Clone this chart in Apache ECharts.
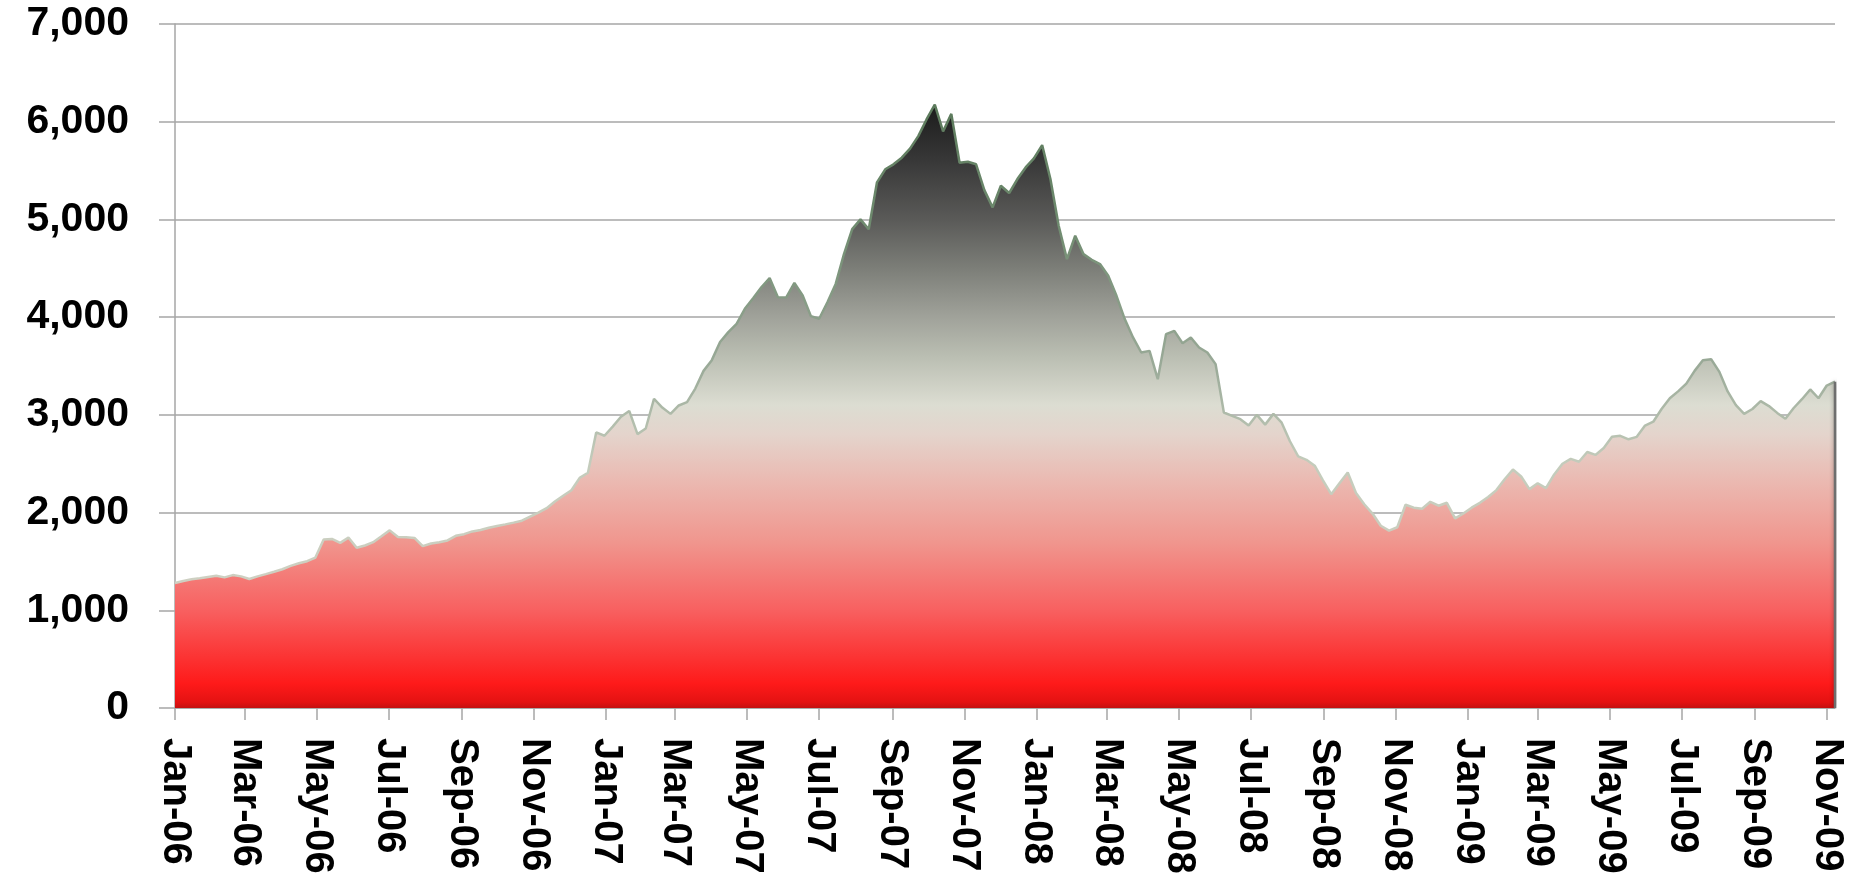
<!DOCTYPE html>
<html>
<head>
<meta charset="utf-8">
<title>Weekly index level, 2006–2009</title>
<script src="https://cdn.jsdelivr.net/npm/echarts@6/dist/echarts.min.js"></script>
<style>
  html, body { margin: 0; padding: 0; background: #ffffff; }
  #chart { width: 1860px; height: 879px; }
</style>
</head>
<body>
<div id="chart"></div>
<script>
// Weekly closing levels, first week of January 2006 onward
const START = { year: 2006, month: 0, day: 1 };
const STEP_DAYS = 7;
const VALUES = [
  1280, 1300, 1317, 1327, 1340, 1353, 1337, 1360, 1347, 1320,
  1347, 1370, 1394, 1420, 1455, 1481, 1502, 1540, 1724, 1730,
  1690, 1744, 1640, 1663, 1697, 1757, 1818, 1751, 1748, 1740,
  1657, 1683, 1697, 1715, 1762, 1779, 1807, 1821, 1845, 1862,
  1879, 1897, 1917, 1959, 2000, 2045, 2114, 2172, 2228, 2355,
  2407, 2820, 2786, 2880, 2980, 3040, 2803, 2860, 3165, 3075,
  3010, 3096, 3131, 3269, 3450, 3560, 3745, 3847, 3932, 4085,
  4194, 4306, 4400, 4204, 4200, 4350, 4221, 4010, 3983, 4153,
  4340, 4646, 4901, 5000, 4900, 5380, 5513, 5564, 5632, 5724,
  5853, 6023, 6176, 5900, 6080, 5580, 5590, 5564, 5300, 5123,
  5345, 5270, 5413, 5532, 5625, 5760, 5413, 4935, 4594, 4833,
  4645, 4587, 4543, 4423, 4218, 3980, 3792, 3638, 3655, 3365,
  3826, 3860, 3733, 3792, 3689, 3638, 3519, 3024, 2990, 2956,
  2890, 3000, 2900, 3010, 2920, 2730, 2575, 2540, 2480, 2330,
  2188, 2300, 2410, 2200, 2085, 1990, 1865, 1815, 1850, 2080,
  2050, 2040, 2110, 2070, 2100, 1940, 1990, 2050, 2100, 2160,
  2230, 2341, 2440, 2370, 2240, 2300, 2250, 2390, 2500, 2550,
  2520, 2620, 2590, 2660, 2775, 2785, 2750, 2775, 2890, 2930,
  3060, 3170, 3240, 3320, 3450, 3560, 3570, 3440, 3240, 3100,
  3010, 3060, 3140, 3090, 3020, 2960, 3070, 3160, 3260, 3170,
  3300, 3340
];
const TICK_LABELS = [
  'Jan-06', 'Mar-06', 'May-06', 'Jul-06', 'Sep-06', 'Nov-06',
  'Jan-07', 'Mar-07', 'May-07', 'Jul-07', 'Sep-07', 'Nov-07',
  'Jan-08', 'Mar-08', 'May-08', 'Jul-08', 'Sep-08', 'Nov-08',
  'Jan-09', 'Mar-09', 'May-09', 'Jul-09', 'Sep-09', 'Nov-09'
];
const Y_MIN = 0, Y_MAX = 7000, Y_STEP = 1000;

// Colour ramp of the filled area, keyed by level
const FILL_STOPS = [
  [0, '#c41010'], [60, '#e41212'], [250, '#fe1a1a'], [1000, '#f86060'],
  [1700, '#f0968e'], [2300, '#ebb8b0'], [2800, '#e4d4cc'], [3100, '#dcddd2'],
  [3600, '#babeb2'], [4000, '#a0a29a'], [4500, '#7c7e78'], [5000, '#5a5a58'],
  [5600, '#383838'], [6200, '#1a1a1a']
];
const EDGE_STOPS = [
  [0, '#d8d4c8'], [2500, '#c4ccbc'], [3500, '#9aaa98'], [5000, '#6e8a6e'], [6200, '#5c7a5c']
];

const MONTHS = ['Jan','Feb','Mar','Apr','May','Jun','Jul','Aug','Sep','Oct','Nov','Dec'];
const DAY_MS = 86400000;
const T0 = Date.UTC(START.year, START.month, START.day);

function dayOfLabel(label) {
  const parts = label.split('-');
  const t = Date.UTC(2000 + Number(parts[1]), MONTHS.indexOf(parts[0]), 1);
  return Math.round((t - T0) / DAY_MS);
}

const tickDays = TICK_LABELS.map(dayOfLabel);
const labelByDay = {};
TICK_LABELS.forEach((l, i) => { labelByDay[tickDays[i]] = l; });
const seriesData = VALUES.map((v, i) => [i * STEP_DAYS, v]);
const lastDay = (VALUES.length - 1) * STEP_DAYS;
// closing side of the area, from the baseline up to the last level
const endEdge = [[lastDay, Y_MIN], [lastDay, VALUES[VALUES.length - 1]]];

const GRID = { left: 175, top: 24, width: 1660, height: 684 };

function ramp(stops) {
  // vertical gradient in canvas pixels, offsets follow the y scale
  return new echarts.graphic.LinearGradient(0, GRID.top, 0, GRID.top + GRID.height,
    stops.map(s => ({ offset: 1 - (s[0] - Y_MIN) / (Y_MAX - Y_MIN), color: s[1] })).reverse(),
    true);
}

const FONT = '"Liberation Sans", Arial, sans-serif';
const AXIS_GREY = '#a6a6a6';

const chart = echarts.init(document.getElementById('chart'), null, { renderer: 'canvas' });
chart.setOption({
  animation: false,
  backgroundColor: '#ffffff',
  grid: GRID,
  xAxis: {
    type: 'value',
    min: 0,
    max: lastDay,
    splitLine: { show: false },
    axisLine: { show: true, onZero: false, lineStyle: { color: AXIS_GREY, width: 1.5 } },
    axisTick: { show: true, length: 12, customValues: tickDays, lineStyle: { color: AXIS_GREY, width: 1.5 } },
    axisLabel: {
      show: true,
      customValues: tickDays,
      rotate: -90,
      margin: 30,
      color: '#000000',
      fontFamily: FONT,
      fontWeight: 'bold',
      fontSize: 40,
      formatter: v => labelByDay[Math.round(v)] || ''
    }
  },
  yAxis: {
    type: 'value',
    min: Y_MIN,
    max: Y_MAX,
    interval: Y_STEP,
    axisLine: { show: true, lineStyle: { color: AXIS_GREY, width: 1.5 } },
    axisTick: { show: true, length: 16, lineStyle: { color: AXIS_GREY, width: 1.5 } },
    splitLine: { show: true, lineStyle: { color: AXIS_GREY, width: 1.5 } },
    axisLabel: {
      margin: 46,
      color: '#000000',
      fontFamily: FONT,
      fontWeight: 'bold',
      fontSize: 41,
      formatter: v => v.toLocaleString('en-US')
    }
  },
  series: [{
    type: 'line',
    data: seriesData,
    symbol: 'none',
    smooth: false,
    lineStyle: { width: 2.5, color: ramp(EDGE_STOPS) },
    areaStyle: { color: ramp(FILL_STOPS), opacity: 1 },
    z: 3
  }, {
    type: 'line',
    data: endEdge,
    symbol: 'none',
    silent: true,
    lineStyle: { width: 2.5, color: '#6e6e6e', shadowBlur: 4, shadowColor: 'rgba(0,0,0,0.35)' },
    z: 4
  }]
});
</script>
</body>
</html>
